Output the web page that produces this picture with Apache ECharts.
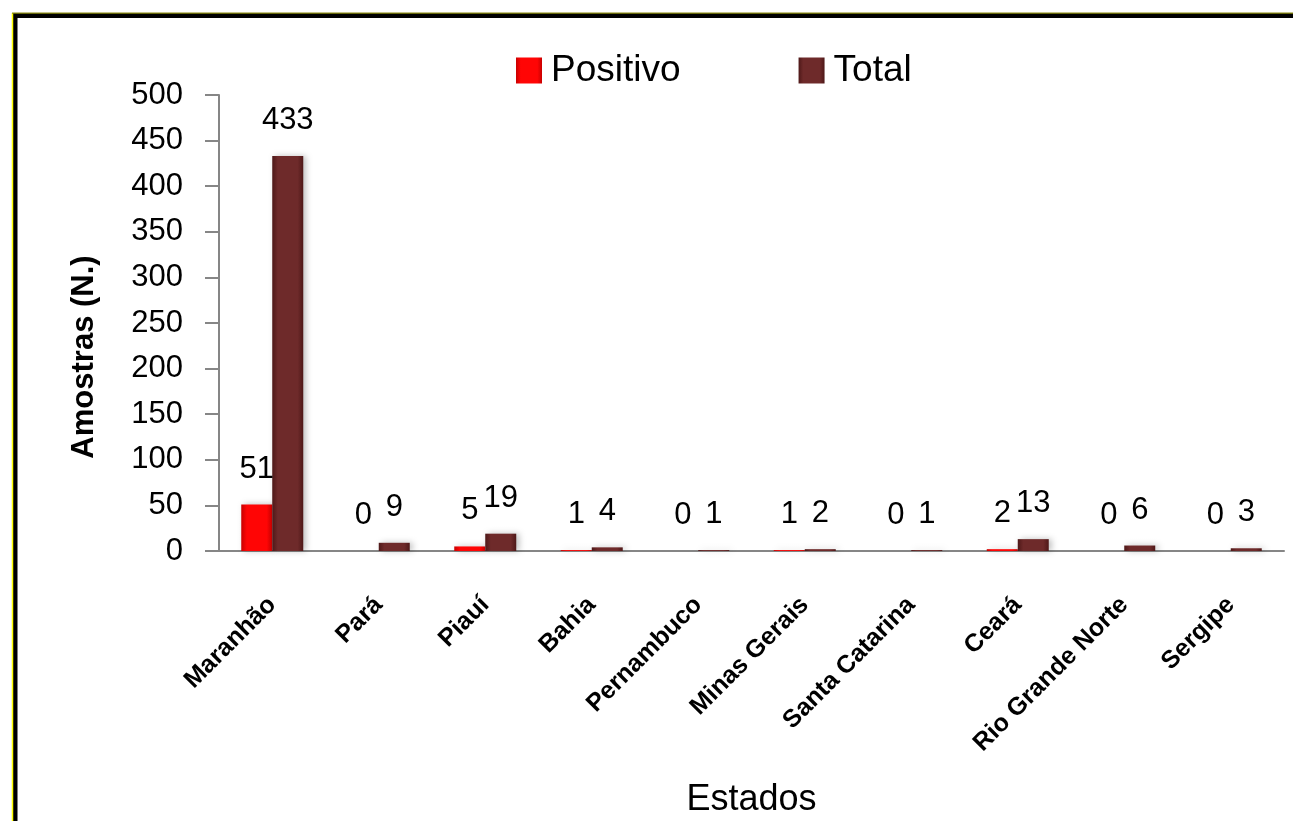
<!DOCTYPE html>
<html>
<head>
<meta charset="utf-8">
<title>Amostras por Estado</title>
<script src="https://cdn.jsdelivr.net/npm/echarts@6/dist/echarts.min.js"></script>
<style>
  html, body { margin: 0; padding: 0; background: #fff; }
  #chart { width: 1293px; height: 821px; }
</style>
</head>
<body>
<div id="chart"></div>
<script>
// States (x-axis categories)
var estados = ['Maranhão', 'Pará', 'Piauí', 'Bahia', 'Pernambuco', 'Minas Gerais',
               'Santa Catarina', 'Ceará', 'Rio Grande Norte', 'Sergipe'];
// Positive samples per state
var positivo = [51, 0, 5, 1, 0, 1, 0, 2, 0, 0];
// Total samples per state
var total = [433, 9, 19, 4, 1, 2, 1, 13, 6, 3];
// Y-axis tick range
var yMin = 0, yMax = 500, yStep = 50;

var FONT = '"Liberation Sans", Arial, sans-serif';

function barGradient(edge, mid) {
  return new echarts.graphic.LinearGradient(0, 0, 1, 0, [
    { offset: 0, color: edge },
    { offset: 0.18, color: mid },
    { offset: 0.82, color: mid },
    { offset: 1, color: edge }
  ]);
}

var labelStyle = {
  show: true,
  position: 'top',
  distance: 20,
  color: '#000',
  fontFamily: FONT,
  fontSize: 31
};

var chart = echarts.init(document.getElementById('chart'));
chart.setOption({
  backgroundColor: '#ffffff',
  animation: false,
  legend: {
    left: 511,
    top: 47,
    itemWidth: 26,
    itemHeight: 26,
    itemGap: 118,
    icon: 'rect',
    textStyle: { fontFamily: FONT, fontSize: 37, color: '#000', padding: [0, 0, 0, 4] },
    data: ['Positivo', 'Total']
  },
  grid: { left: 219, right: 9, top: 95, bottom: 270, containLabel: false, outerBoundsMode: 'none' },
  xAxis: {
    type: 'category',
    data: estados,
    name: 'Estados',
    nameLocation: 'middle',
    nameGap: 231,
    nameTextStyle: { fontFamily: FONT, fontSize: 36, color: '#000' },
    axisLine: { lineStyle: { color: '#868686', width: 2 } },
    axisTick: { show: false },
    axisLabel: {
      interval: 0,
      rotate: 45,
      margin: 50,
      fontFamily: FONT,
      fontWeight: 'bold',
      fontSize: 25,
      color: '#000'
    }
  },
  yAxis: {
    type: 'value',
    min: yMin,
    max: yMax,
    interval: yStep,
    splitLine: { show: false },
    axisLine: { show: true, lineStyle: { color: '#868686', width: 2 } },
    axisTick: { show: true, length: 14, lineStyle: { color: '#868686', width: 2 } },
    axisLabel: { margin: 36, fontFamily: FONT, fontSize: 31, color: '#000' }
  },
  graphic: [
    // outer frame
    { type: 'rect', silent: true, z: 100,
      shape: { x: 15, y: 15.5, width: 1400, height: 1000 },
      style: { fill: 'none', stroke: '#000', lineWidth: 5 } },
    { type: 'line', silent: true, z: 101,
      shape: { x1: 12.5, y1: 13, x2: 12.5, y2: 821 },
      style: { stroke: '#ffff00', lineWidth: 1.5 } },
    { type: 'line', silent: true, z: 101,
      shape: { x1: 12, y1: 13.2, x2: 1293, y2: 13.2 },
      style: { stroke: '#8a8a10', lineWidth: 1.2 } },
    // y-axis title
    { type: 'text', silent: true, z: 50,
      x: 84, y: 357, rotation: Math.PI / 2,
      style: { text: 'Amostras (N.)', fontFamily: FONT, fontWeight: 'bold', fontSize: 31,
               fill: '#000', align: 'center', verticalAlign: 'middle' } }
  ],
  series: [
    {
      name: 'Positivo',
      type: 'bar',
      data: positivo,
      barWidth: 31,
      barGap: '0%',
      itemStyle: {
        color: barGradient('#c80000', '#ff0505'),
        shadowColor: 'rgba(0,0,0,0.25)', shadowBlur: 6, shadowOffsetX: 3
      },
      label: labelStyle
    },
    {
      name: 'Total',
      type: 'bar',
      data: total,
      barWidth: 31,
      itemStyle: {
        color: barGradient('#4e1818', '#6e2a2a'),
        shadowColor: 'rgba(0,0,0,0.25)', shadowBlur: 6, shadowOffsetX: 3
      },
      label: labelStyle
    }
  ]
});
</script>
</body>
</html>
